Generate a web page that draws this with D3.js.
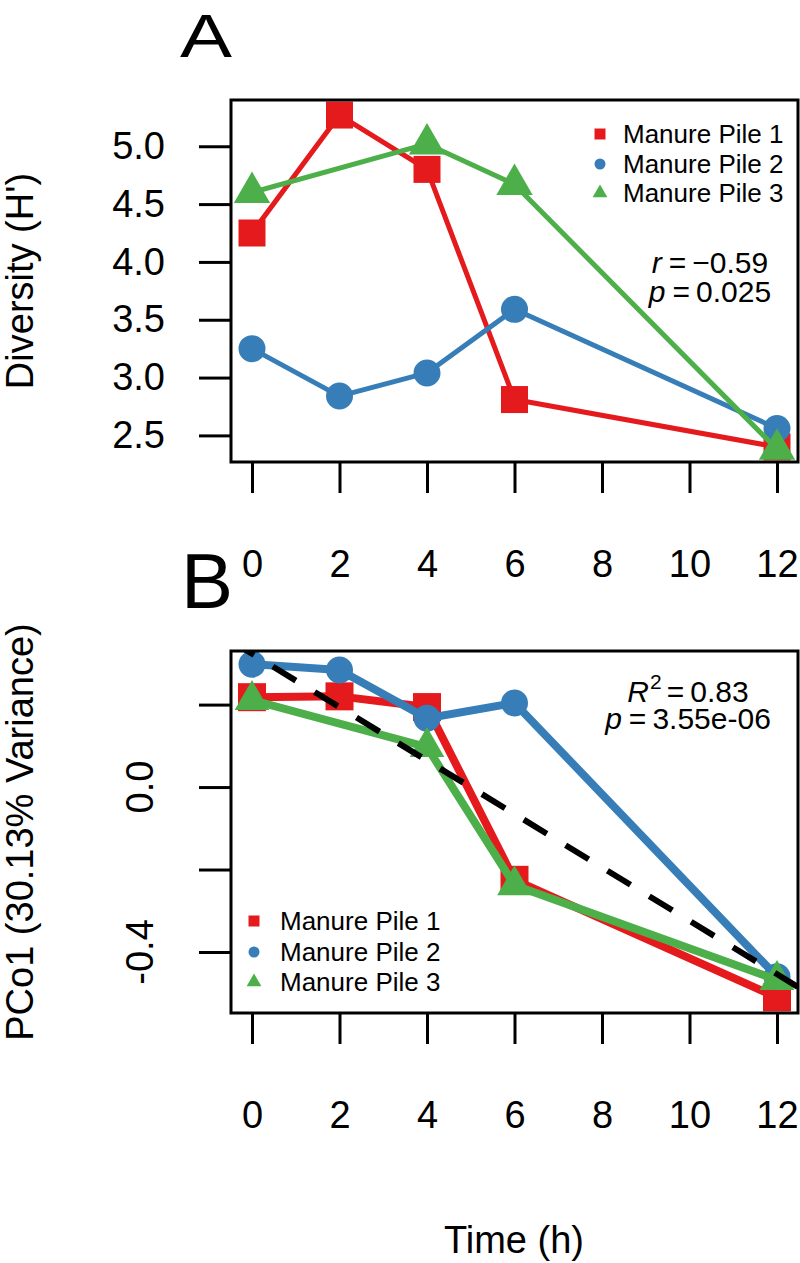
<!DOCTYPE html>
<html>
<head>
<meta charset="utf-8">
<script src="https://cdn.jsdelivr.net/npm/d3@7"></script>
<style>
  body { margin: 0; background: #fff; }
  text { font-family: "Liberation Sans", Arial, sans-serif; fill: #000; }
</style>
</head>
<body>
<svg id="chart" width="800" height="1263"></svg>
<script>
// sampling times (h)
var times = [0, 2, 4, 6, 12];
var timesPile3 = [0, 4, 6, 12];   // pile 3 has no 2 h sample
var xTicks = [0, 2, 4, 6, 8, 10, 12];

// panel A - Shannon diversity (H')
var divPile1 = [4.25, 5.27, 4.80, 2.81, 2.40];
var divPile2 = [3.25, 2.84, 3.04, 3.59, 2.56];
var divPile3 = [4.60, 5.02, 4.67, 2.38];
var divTicks = [2.5, 3.0, 3.5, 4.0, 4.5, 5.0];

// panel B - PCo1 scores
var pcoPile1 = [0.218, 0.220, 0.194, -0.225, -0.510];
var pcoPile2 = [0.298, 0.284, 0.167, 0.204, -0.460];
var pcoPile3 = [0.211, 0.097, -0.238, -0.468];
var pcoTicks = [-0.4, -0.2, 0.0, 0.2];
var pcoLabelTicks = [-0.4, 0.0];

var seriesNames = ["Manure Pile 1", "Manure Pile 2", "Manure Pile 3"];
var colors = ["#E41A1C", "#377EB8", "#4DAF4A"];
var shapes = ["square", "circle", "triangle"];

var svg = d3.select("#chart");
var boxLeft = 231, boxRight = 798;

var x = d3.scaleLinear().domain([-0.48, 12.48]).range([boxLeft, boxRight]);

function markerPath(shape, cx, cy, s) {
	if (shape == "square") {
		return `M${cx - s / 2},${cy - s / 2}h${s}v${s}h${-s}Z`;
	}
	if (shape == "circle") {
		var r = s / 2;
		return `M${cx - r},${cy}a${r},${r} 0 1,0 ${2 * r},0a${r},${r} 0 1,0 ${-2 * r},0Z`;
	}
	// R pch 17 style triangle, s = circumradius
	return `M${cx},${cy - s}L${cx + 0.866 * s},${cy + s / 2}L${cx - 0.866 * s},${cy + s / 2}Z`;
}

function drawSeries(g, y, xs, ys, i, lw, sizes) {
	var pts = xs.map(function (t, k) { return [t, ys[k]]; });
	g.append("path").datum(pts)
		.attr("d", d3.line().x(function (d) { return x(d[0]); }).y(function (d) { return y(d[1]); }))
		.attr("fill", "none").attr("stroke", colors[i]).attr("stroke-width", lw)
		.attr("stroke-linejoin", "round");
	g.selectAll(null).data(pts).enter().append("path")
		.attr("d", function (d) { return markerPath(shapes[i], x(d[0]), y(d[1]), sizes[i]); })
		.attr("fill", colors[i]);
}

function drawLegend(lx, tx, rows) {
	var lg = svg.append("g");
	seriesNames.forEach(function (nm, i) {
		var sz = [11, 11, 8.5][i];
		lg.append("path").attr("d", markerPath(shapes[i], lx, rows[i], sz)).attr("fill", colors[i]);
		lg.append("text").attr("x", tx).attr("y", rows[i]).attr("dy", "0.36em")
			.style("font-size", "26px").text(nm);
	});
}

function drawXAxis(top, bottom) {
	svg.append("g").attr("transform", `translate(0, ${bottom})`)
		.call(d3.axisBottom(x).tickValues(xTicks).tickSize(31).tickPadding(57).tickFormat(d3.format("d")))
		.call(function (g) { g.select(".domain").remove(); })
		.call(function (g) { g.selectAll("line").attr("stroke", "#000").attr("stroke-width", 3); })
		.call(function (g) { g.selectAll("text").attr("font-family", null).style("font-size", "38px"); });
}

function drawBox(top, bottom, id) {
	svg.append("clipPath").attr("id", id).append("rect")
		.attr("x", boxLeft).attr("y", top).attr("width", boxRight - boxLeft).attr("height", bottom - top);
	svg.append("rect").attr("x", boxLeft).attr("y", top).attr("width", boxRight - boxLeft).attr("height", bottom - top)
		.attr("fill", "none").attr("stroke", "#000").attr("stroke-width", 3);
}

// plotmath-like "sym = value" line, symbol in italics
function statLine(g, cx, cy, sym, sup, value) {
	var t = g.append("text").attr("x", cx).attr("y", cy).attr("text-anchor", "middle");
	t.append("tspan").style("font-style", "italic").text(sym);
	if (sup) {
		t.append("tspan").attr("dx", 1).attr("dy", -13).style("font-size", "21px").text(sup);
		t.append("tspan").attr("dx", 5).attr("dy", 13).text("=");
	} else {
		t.append("tspan").attr("dx", 7).text("=");
	}
	t.append("tspan").attr("dx", 6).text(value);
}

////////////////////////////////////////////////////////////////// panel A
var topA = 100, bottomA = 462;
var yA = d3.scaleLinear().domain([2.27, 5.40]).range([bottomA, topA]);

var gA = svg.append("g").attr("clip-path", "url(#clipA)");
drawSeries(gA, yA, times, divPile1, 0, 5, [27, 27, 21]);
drawSeries(gA, yA, times, divPile2, 1, 5, [27, 27, 21]);
drawSeries(gA, yA, timesPile3, divPile3, 2, 5, [27, 27, 21]);
drawBox(topA, bottomA, "clipA");

svg.append("g").attr("transform", `translate(${boxLeft}, 0)`)
	.call(d3.axisLeft(yA).tickValues(divTicks).tickSize(32).tickPadding(34).tickFormat(d3.format(".1f")))
	.call(function (g) { g.select(".domain").remove(); })
	.call(function (g) { g.selectAll("line").attr("stroke", "#000").attr("stroke-width", 3); })
	.call(function (g) { g.selectAll("text").attr("font-family", null).style("font-size", "38px"); });
drawXAxis(topA, bottomA);

svg.append("text").attr("transform", "translate(33, 281) rotate(-90)").attr("text-anchor", "middle")
	.style("font-size", "38px").text("Diversity (H')");
svg.append("text").attr("transform", "translate(206, 57) scale(1, 0.79)").attr("text-anchor", "middle")
	.style("font-size", "78px").text("A");

drawLegend(600, 623, [134, 164, 193]);

var annA = svg.append("g").style("font-size", "30px");
statLine(annA, 710, 273, "r", null, "\u22120.59");
statLine(annA, 710, 302, "p", null, "0.025");

////////////////////////////////////////////////////////////////// panel B
var topB = 651, bottomB = 1013;
var yB = d3.scaleLinear().domain([-0.548, 0.330]).range([bottomB, topB]);

var gB = svg.append("g").attr("clip-path", "url(#clipB)");
drawSeries(gB, yB, times, pcoPile1, 0, 8, [28, 27, 20]);
drawSeries(gB, yB, times, pcoPile2, 1, 8, [28, 27, 20]);
drawSeries(gB, yB, timesPile3, pcoPile3, 2, 8, [28, 27, 20]);

// least squares fit of PCo1 on time, all piles pooled
var allT = times.concat(times, timesPile3);
var allV = pcoPile1.concat(pcoPile2, pcoPile3);
var mt = d3.mean(allT), mv = d3.mean(allV);
var sxy = d3.sum(allT, function (t, k) { return (t - mt) * (allV[k] - mv); });
var sxx = d3.sum(allT, function (t) { return (t - mt) * (t - mt); });
var slope = sxy / sxx, icpt = mv - slope * mt;
var xd = x.domain();
gB.append("line")
	.attr("x1", x(xd[0])).attr("y1", yB(icpt + slope * xd[0]))
	.attr("x2", x(xd[1])).attr("y2", yB(icpt + slope * xd[1]))
	.attr("stroke", "#000").attr("stroke-width", 6).attr("stroke-dasharray", "27,22");
drawBox(topB, bottomB, "clipB");

svg.append("g").attr("transform", `translate(${boxLeft}, 0)`)
	.call(d3.axisLeft(yB).tickValues(pcoTicks).tickSize(32).tickFormat(""))
	.call(function (g) { g.select(".domain").remove(); })
	.call(function (g) { g.selectAll("line").attr("stroke", "#000").attr("stroke-width", 3); });
svg.append("g").selectAll("text").data(pcoLabelTicks).enter().append("text")
	.attr("transform", function (d) { return `translate(153, ${yB(d)}) rotate(-90)`; })
	.attr("text-anchor", "middle").style("font-size", "38px")
	.text(function (d) { return d3.format(".1f")(d).replace("\u2212", "-"); });
drawXAxis(topB, bottomB);

svg.append("text").attr("transform", "translate(33, 832) rotate(-90)").attr("text-anchor", "middle")
	.style("font-size", "38px").text("PCo1 (30.13% Variance)");
svg.append("text").attr("x", 207).attr("y", 608).attr("text-anchor", "middle")
	.style("font-size", "78px").text("B");

drawLegend(254, 280, [921, 952, 982]);

var annB = svg.append("g").style("font-size", "30px");
statLine(annB, 688, 702, "R", "2", "0.83");
statLine(annB, 688, 729, "p", null, "3.55e-06");

svg.append("text").attr("x", 514).attr("y", 1253).attr("text-anchor", "middle")
	.style("font-size", "38px").text("Time (h)");
</script>
</body>
</html>
